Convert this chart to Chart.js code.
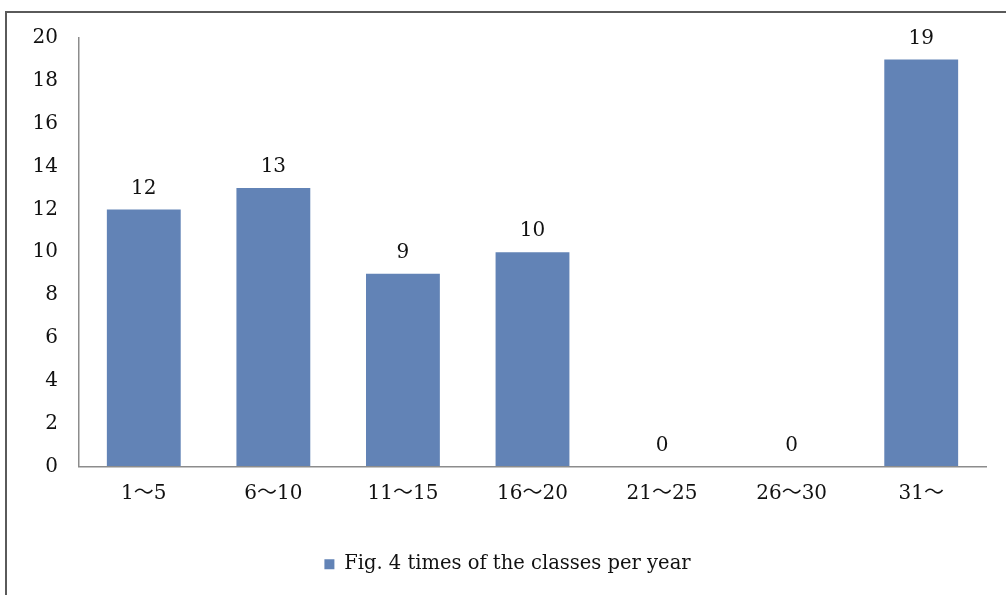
<!DOCTYPE html>
<html lang="en">
<head>
    <meta charset="UTF-8">
    <title>Fig. 4 times of the classes per year</title>
    <script src="https://cdn.jsdelivr.net/npm/chart.js"></script>
    <style>
        body {
            margin: 0;
            padding: 0;
            background: #fff;
        }

        .frame {
            position: absolute;
            left: 5px;
            top: 11px;
            width: 999px;
            height: 582px;
            border-left: 2px solid #5a5a5a;
            border-top: 2px solid #5a5a5a;
        }
    </style>
</head>
<body>
    <div class="frame">
        <canvas id="chart" width="999" height="582"></canvas>
    </div>

    <script>
        const categories = ['1\u301C5', '6\u301C10', '11\u301C15', '16\u301C20', '21\u301C25', '26\u301C30', '31\u301C'];
        const classCounts = [12, 13, 9, 10, 0, 0, 19];
        const seriesName = 'Fig. 4 times of the classes per year';
        const yTicks = [0, 2, 4, 6, 8, 10, 12, 14, 16, 18, 20];

        const fontName = '"DejaVu Serif", "Noto Sans CJK JP", serif';
        const barColor = '#6283b6';

        // draws the number above each bar
        const valueLabels = {
            id: 'valueLabels',
            afterDatasetsDraw(chart) {
                const ctx = chart.ctx;
                const meta = chart.getDatasetMeta(0);
                ctx.save();
                ctx.font = '20px ' + fontName;
                ctx.fillStyle = '#111';
                ctx.textAlign = 'center';
                ctx.textBaseline = 'bottom';
                meta.data.forEach(function(bar, i) {
                    ctx.fillText(classCounts[i], bar.x, bar.y - 11);
                });
                ctx.restore();
            }
        };

        new Chart(document.getElementById('chart'), {
            type: 'bar',
            data: {
                labels: categories,
                datasets: [{
                    label: seriesName,
                    data: classCounts,
                    backgroundColor: barColor,
                    borderWidth: 0,
                    categoryPercentage: 1,
                    barPercentage: 0.57
                }]
            },
            plugins: [valueLabels],
            options: {
                responsive: false,
                animation: false,
                layout: {
                    padding: { top: 25, right: 20, bottom: 11, left: 22 }
                },
                plugins: {
                    tooltip: { enabled: false },
                    legend: {
                        position: 'bottom',
                        labels: {
                            boxWidth: 10,
                            boxHeight: 10,
                            padding: 10,
                            color: '#111',
                            font: { family: fontName, size: 19.5 }
                        }
                    }
                },
                scales: {
                    x: {
                        grid: { display: false, drawTicks: false },
                        border: { color: '#8c8c8c', width: 1.5 },
                        ticks: {
                            padding: 15,
                            color: '#111',
                            maxRotation: 0,
                            font: { family: fontName, size: 20 }
                        },
                        afterFit: function(scale) { scale.height = 78; }
                    },
                    y: {
                        min: 0,
                        max: 20,
                        afterBuildTicks: function(scale) {
                            scale.ticks = yTicks.map(v => ({ value: v }));
                        },
                        // invisible tick marks push the labels away from the axis
                        grid: {
                            drawOnChartArea: false,
                            drawTicks: true,
                            tickLength: 19,
                            tickColor: 'rgba(0,0,0,0)'
                        },
                        border: { color: '#8c8c8c', width: 1.5 },
                        ticks: {
                            padding: 2,
                            color: '#111',
                            font: { family: fontName, size: 20 }
                        },
                        afterFit: function(scale) { scale.width = 50; }
                    }
                }
            }
        });
    </script>
</body>
</html>
